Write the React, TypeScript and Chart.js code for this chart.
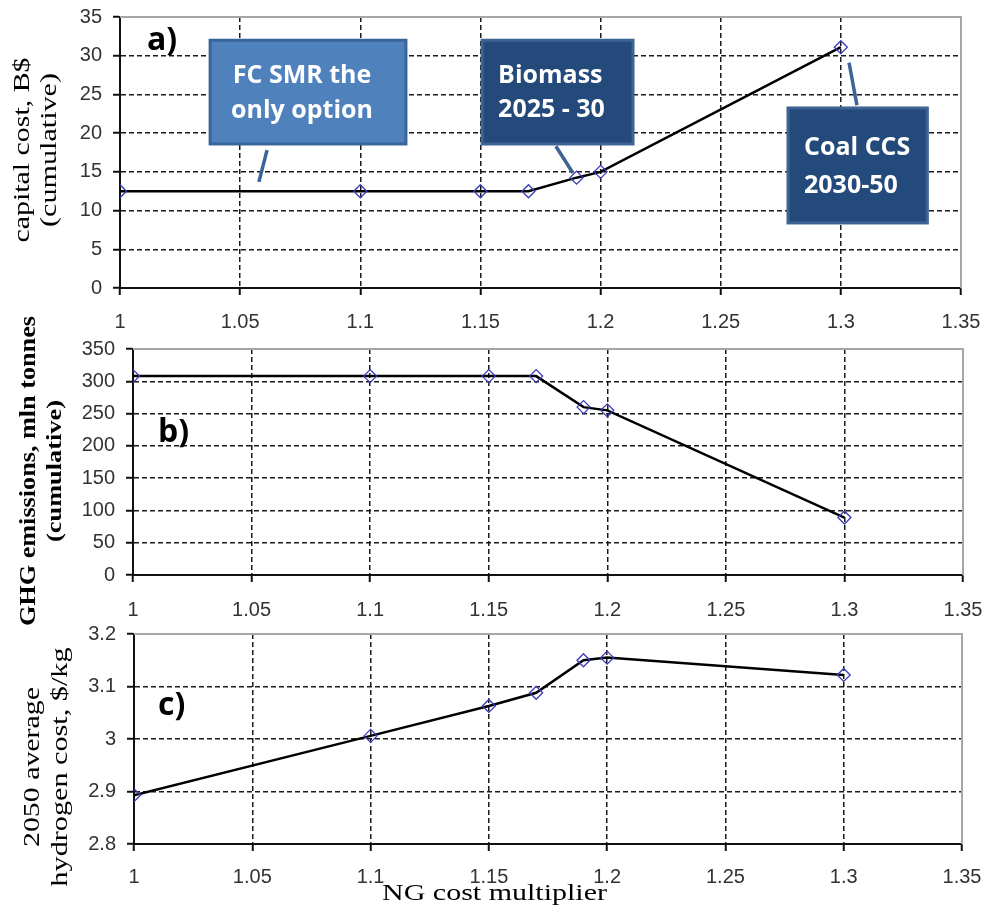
import React, { useEffect, useRef } from "react";
import { Chart, registerables } from "chart.js";

Chart.register(...registerables);

// ---------- data ----------
const ngMultiplier = [1, 1.1, 1.15, 1.17, 1.19, 1.2, 1.3];
const capitalCost = [12.5, 12.5, 12.5, 12.5, 14.25, 15.0, 31.1];
const ghgEmissions = [308, 308, 308, 308, 260, 255, 89];
const hydrogenCost = [2.893, 3.006, 3.063, 3.088, 3.15, 3.155, 3.122];

const xTickValues = [1, 1.05, 1.1, 1.15, 1.2, 1.25, 1.3, 1.35];
const xTickLabels = ["1", "1.05", "1.1", "1.15", "1.2", "1.25", "1.3", "1.35"];
const capitalTickValues = [0, 5, 10, 15, 20, 25, 30, 35];
const capitalTickLabels = ["0", "5", "10", "15", "20", "25", "30", "35"];
const ghgTickValues = [0, 50, 100, 150, 200, 250, 300, 350];
const ghgTickLabels = ["0", "50", "100", "150", "200", "250", "300", "350"];
const h2TickValues = [2.8, 2.9, 3.0, 3.1, 3.2];
const h2TickLabels = ["2.8", "2.9", "3", "3.1", "3.2"];

const callouts = [
  {
    lines: ["FC SMR the", "only option"],
    box: [1.0375, 32.0, 1.119, 18.6],
    pointer: [1.0612, 17.8, 1.0578, 13.7],
    fill: "#4f81bd",
    stroke: "#3a659a",
    align: "center",
  },
  {
    lines: ["Biomass", "2025 - 30"],
    box: [1.1507, 32.0, 1.2135, 18.6],
    pointer: [1.1814, 18.3, 1.1885, 14.85],
    fill: "#244a7c",
    stroke: "#3d6494",
    align: "left",
  },
  {
    lines: ["Coal CCS", "2030-50"],
    box: [1.278, 23.25, 1.336, 8.4],
    pointer: [1.3034, 29.1, 1.3067, 23.6],
    fill: "#244a7c",
    stroke: "#3d6494",
    align: "left",
  },
];

// ---------- layout ----------
const W = 985;
const H = 912;
const X_AXIS_H = 52;

type Panel = {
  id: string;
  ys: number[];
  yMin: number;
  yMax: number;
  yTicks: number[];
  yLabels: string[];
  area: { left: number; right: number; top: number; bottom: number };
  xLabelPad: number;
  letter: { text: string; x: number; y: number };
  titles: { text: string; cx: number; cy: number; len: number; font: string }[];
  callouts?: boolean;
  xTitle?: boolean;
};

const panels: Panel[] = [
  {
    id: "a",
    ys: capitalCost,
    yMin: 0,
    yMax: 35,
    yTicks: capitalTickValues,
    yLabels: capitalTickLabels,
    area: { left: 120, right: 961, top: 17, bottom: 288 },
    xLabelPad: 15,
    letter: { text: "a)", x: 147, y: 50 },
    titles: [
      { text: "capital cost, B$", cx: 23, cy: 150, len: 185, font: '24px "Liberation Serif"' },
      { text: "(cumulative)", cx: 50, cy: 150, len: 154, font: '24px "Liberation Serif"' },
    ],
    callouts: true,
  },
  {
    id: "b",
    ys: ghgEmissions,
    yMin: 0,
    yMax: 350,
    yTicks: ghgTickValues,
    yLabels: ghgTickLabels,
    area: { left: 133, right: 963, top: 349, bottom: 575 },
    xLabelPad: 16,
    letter: { text: "b)", x: 158, y: 442 },
    titles: [
      { text: "GHG emissions, mln tonnes", cx: 29, cy: 471, len: 310, font: 'bold 23px "Liberation Serif"' },
      { text: "(cumulative)", cx: 56, cy: 471, len: 142, font: 'bold 21px "Liberation Serif"' },
    ],
  },
  {
    id: "c",
    ys: hydrogenCost,
    yMin: 2.8,
    yMax: 3.2,
    yTicks: h2TickValues,
    yLabels: h2TickLabels,
    area: { left: 134, right: 962, top: 634, bottom: 844 },
    xLabelPad: 14,
    letter: { text: "c)", x: 158, y: 715 },
    titles: [
      { text: "2050 average", cx: 33, cy: 767, len: 160, font: '24px "Liberation Serif"' },
      { text: "hydrogen cost, $/kg", cx: 61, cy: 767, len: 239, font: '24px "Liberation Serif"' },
    ],
    xTitle: true,
  },
];

function drawFitText(
  ctx: CanvasRenderingContext2D,
  text: string,
  cx: number,
  cy: number,
  len: number,
  font: string,
  rotate: boolean,
  baseline: CanvasTextBaseline = "middle"
) {
  ctx.save();
  ctx.font = font;
  const m = ctx.measureText(text).width;
  ctx.translate(cx, cy);
  if (rotate) ctx.rotate(-Math.PI / 2);
  ctx.scale(len / m, 1);
  ctx.textAlign = "center";
  ctx.textBaseline = baseline;
  ctx.fillStyle = "#000";
  ctx.fillText(text, 0, 0);
  ctx.restore();
}

function makeOverlay(p: Panel) {
  return {
    id: "overlay_" + p.id,
    beforeDatasetsDraw(chart: any) {
      const { ctx, chartArea } = chart;
      ctx.save();
      ctx.strokeStyle = "#a6a6a6";
      ctx.lineWidth = 2;
      ctx.beginPath();
      ctx.moveTo(chartArea.left, chartArea.top);
      ctx.lineTo(chartArea.right, chartArea.top);
      ctx.lineTo(chartArea.right, chartArea.bottom);
      ctx.stroke();
      ctx.restore();
    },
    afterDraw(chart: any) {
      const { ctx } = chart;
      const xs = chart.scales.x;
      const ys = chart.scales.y;
      // titles
      p.titles.forEach((t) => drawFitText(ctx, t.text, t.cx, t.cy, t.len, t.font, true));
      if (p.xTitle) {
        drawFitText(ctx, "NG cost multiplier", 494.5, 900, 225, '24px "Liberation Serif"', false, "alphabetic");
      }
      // panel letter
      ctx.save();
      ctx.font = 'bold 32px "Open Sans"';
      ctx.fillStyle = "#000";
      ctx.textAlign = "left";
      ctx.textBaseline = "alphabetic";
      ctx.fillText(p.letter.text, p.letter.x, p.letter.y);
      ctx.restore();
      // callouts
      if (p.callouts) {
        callouts.forEach((c) => {
          const x1 = xs.getPixelForValue(c.box[0]);
          const y1 = ys.getPixelForValue(c.box[1]);
          const x2 = xs.getPixelForValue(c.box[2]);
          const y2 = ys.getPixelForValue(c.box[3]);
          ctx.save();
          // pointer
          ctx.strokeStyle = c.stroke;
          ctx.lineWidth = 3.5;
          ctx.beginPath();
          ctx.moveTo(xs.getPixelForValue(c.pointer[0]), ys.getPixelForValue(c.pointer[1]));
          ctx.lineTo(xs.getPixelForValue(c.pointer[2]), ys.getPixelForValue(c.pointer[3]));
          ctx.stroke();
          // box
          ctx.fillStyle = c.fill;
          ctx.fillRect(x1, y1, x2 - x1, y2 - y1);
          ctx.lineWidth = 3;
          ctx.strokeStyle = c.stroke;
          ctx.strokeRect(x1, y1, x2 - x1, y2 - y1);
          // text
          ctx.fillStyle = "#ffffff";
          ctx.font = 'bold 25px "Open Sans"';
          ctx.textBaseline = "alphabetic";
          const h = y2 - y1;
          const b1 = y1 + (c.align === "center" ? 43 : h * 0.41);
          const b2 = y1 + (c.align === "center" ? 78 : h * 0.74);
          if (c.align === "center") {
            ctx.textAlign = "center";
            const cx = (x1 + x2) / 2 - 6;
            ctx.fillText(c.lines[0], cx, b1);
            ctx.fillText(c.lines[1], cx, b2);
          } else {
            ctx.textAlign = "left";
            ctx.fillText(c.lines[0], x1 + 16, b1);
            ctx.fillText(c.lines[1], x1 + 16, b2);
          }
          ctx.restore();
        });
      }
    },
  };
}

function edgeTransparent(n: number) {
  return (ctx: any) =>
    ctx.index === 0 || ctx.index === n - 1 ? "rgba(0,0,0,0)" : "#1a1a1a";
}

function buildConfig(p: Panel): any {
  const tickFont = { family: '"Liberation Sans"', size: 20 };
  return {
    type: "line",
    data: {
      datasets: [
        {
          data: ngMultiplier.map((x, i) => ({ x, y: p.ys[i] })),
          borderColor: "#000",
          borderWidth: 2.5,
          tension: 0,
          fill: false,
          pointStyle: "rectRot",
          pointRadius: 6.5,
          pointBorderColor: "#3a3ab8",
          pointBackgroundColor: "rgba(0,0,0,0)",
          pointBorderWidth: 1.3,
        },
      ],
    },
    options: {
      responsive: false,
      animation: false,
      devicePixelRatio: 1,
      events: [],
      layout: {
        padding: {
          left: 0,
          top: p.area.top,
          right: W - p.area.right,
          bottom: H - p.area.bottom - X_AXIS_H,
        },
      },
      plugins: { legend: { display: false }, tooltip: { enabled: false } },
      scales: {
        x: {
          type: "linear",
          min: xTickValues[0],
          max: xTickValues[xTickValues.length - 1],
          afterBuildTicks: (s: any) => {
            s.ticks = xTickValues.map((v) => ({ value: v }));
          },
          afterFit: (s: any) => {
            s.height = X_AXIS_H;
            s.paddingLeft = 0;
            s.paddingRight = 0;
          },
          ticks: {
            callback: (_v: any, i: number) => xTickLabels[i],
            font: tickFont,
            color: "#333",
            padding: p.xLabelPad,
            maxRotation: 0,
            autoSkip: false,
          },
          grid: {
            color: edgeTransparent(xTickValues.length),
            lineWidth: 1.5,
            tickLength: 7,
            tickColor: "#111",
            tickWidth: 2,
            tickBorderDash: [],
          },
          border: { display: true, color: "#111", width: 2, dash: [5, 3] },
        },
        y: {
          type: "linear",
          min: p.yMin,
          max: p.yMax,
          afterBuildTicks: (s: any) => {
            s.ticks = p.yTicks.map((v) => ({ value: v }));
          },
          afterFit: (s: any) => {
            s.width = p.area.left;
            s.paddingTop = 0;
            s.paddingBottom = 0;
          },
          ticks: {
            callback: (_v: any, i: number) => p.yLabels[i],
            font: tickFont,
            color: "#333",
            padding: 11,
            autoSkip: false,
          },
          grid: {
            color: edgeTransparent(p.yTicks.length),
            lineWidth: 1.5,
            tickLength: 7,
            tickColor: "#111",
            tickWidth: 2,
            tickBorderDash: [],
          },
          border: { display: true, color: "#111", width: 2, dash: [5, 3] },
        },
      },
    },
    plugins: [makeOverlay(p)],
  };
}

function PanelCanvas({ p }: { p: Panel }) {
  const ref = useRef<HTMLCanvasElement | null>(null);
  useEffect(() => {
    if (!ref.current) return;
    const chart = new Chart(ref.current, buildConfig(p));
    return () => chart.destroy();
  }, [p]);
  return (
    <canvas
      ref={ref}
      width={W}
      height={H}
      style={{ position: "absolute", left: 0, top: 0, width: W, height: H }}
    />
  );
}

export default function App() {
  return (
    <div
      style={{
        position: "absolute",
        left: 0,
        top: 0,
        width: W,
        height: H,
        background: "#fff",
        overflow: "hidden",
      }}
    >
      {panels.map((p) => (
        <PanelCanvas key={p.id} p={p} />
      ))}
    </div>
  );
}
